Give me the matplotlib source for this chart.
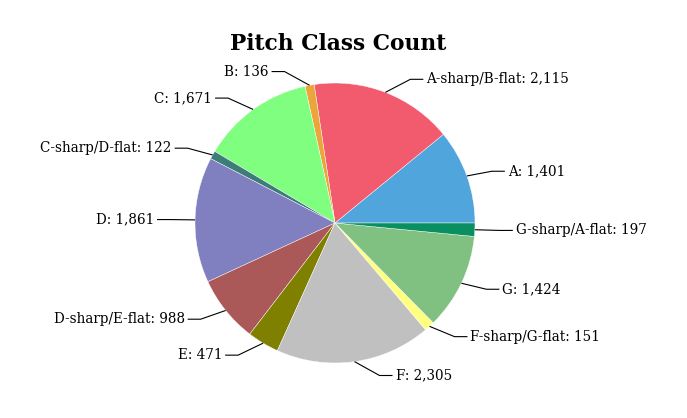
import numpy as np
import matplotlib
matplotlib.use("Agg")
import matplotlib.pyplot as plt

names = ["A", "A-sharp/B-flat", "B", "C", "C-sharp/D-flat", "D",
         "D-sharp/E-flat", "E", "F", "F-sharp/G-flat", "G", "G-sharp/A-flat"]
counts = [1401, 2115, 136, 1671, 122, 1861, 988, 471, 2305, 151, 1424, 197]
colors = ["#50a5dc", "#f25a6e", "#eba53a", "#80fe80", "#3c7d78", "#8080c0",
          "#aa5858", "#808000", "#c0c0c0", "#ffff80", "#80c080", "#0a9060"]

W, H = 687, 418
cx, cy, R = 335, 418 - 223, 140

plt.rcParams['font.family'] = 'DejaVu Serif'
fig = plt.figure(figsize=(W / 100, H / 100), dpi=100)
ax = fig.add_axes([0, 0, 1, 1])

wedges, _ = ax.pie(counts, colors=colors, startangle=0, counterclock=True,
                   center=(cx, cy), radius=R, frame=True,
                   wedgeprops=dict(edgecolor='white', linewidth=0.3))
ax.set_xlim(0, W)
ax.set_ylim(0, H)
ax.axis('off')

total = sum(counts)
cum = 0
for name, v in zip(names, counts):
    mid = np.deg2rad((cum + v / 2) / total * 360)
    cum += v
    ex, ey = cx + R * np.cos(mid), cy + R * np.sin(mid)
    ly = cy + 1.1 * R * np.sin(mid)
    s = 1 if np.cos(mid) >= 0 else -1
    bx = ex + s * 25
    lx = bx + s * 13
    ax.plot([ex, bx, lx], [ey, ly, ly], color='black', lw=0.8,
            solid_capstyle='butt')
    ax.text(lx + s * 3, ly, f"{name}: {v:,}", fontsize=9.75,
            ha='left' if s > 0 else 'right', va='center')

ax.text(338, H - 44, "Pitch Class Count", fontsize=15.7, fontweight='bold',
        ha='center', va='center')

fig.savefig("out.png", dpi=100)
